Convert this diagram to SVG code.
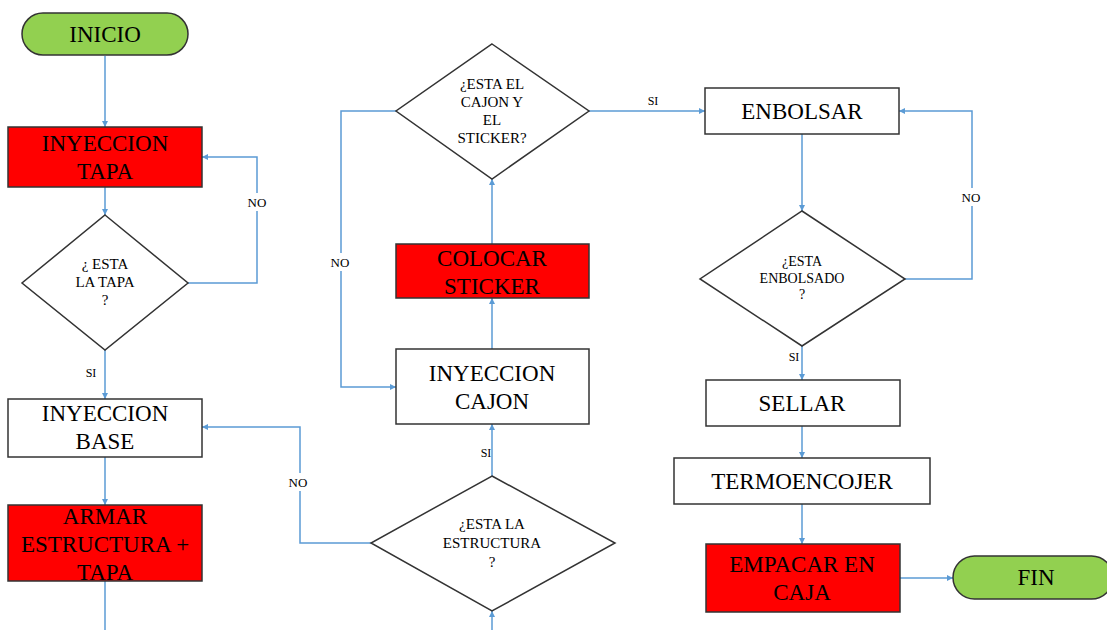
<svg xmlns="http://www.w3.org/2000/svg" width="1107" height="630" viewBox="0 0 1107 630">
<style>
.box{stroke:#333;stroke-width:1.5}
.red{fill:#FF0000}
.white{fill:#FFFFFF}
.pill{fill:#92D050;stroke:#333;stroke-width:1.5}
.dia{fill:#FFFFFF;stroke:#333;stroke-width:1.5}
.c{fill:none;stroke:#5B9BD5;stroke-width:1.5}
.ca{fill:none;stroke:#5B9BD5;stroke-width:1.5;marker-end:url(#arr)}
.bg{fill:#FFFFFF}
</style>
<defs>
<marker id="arr" viewBox="0 0 10 10" refX="10" refY="5" markerWidth="6" markerHeight="6" markerUnits="userSpaceOnUse" orient="auto">
<path d="M0,0 L10,5 L0,10 z" fill="#5B9BD5"/>
</marker>
</defs>
<rect width="1107" height="630" fill="#FFFFFF"/>
<g id="connectors">
<path class="ca" d="M105,56 V127"/>
<path class="ca" d="M105,187 V215"/>
<path class="ca" d="M188,283 H257 V157 H202"/>
<path class="ca" d="M105,350 V399"/>
<path class="ca" d="M105,457 V505"/>
<path class="c" d="M105,581 V630"/>
<path class="ca" d="M492,630 V611"/>
<path class="ca" d="M371,543 H300 V427 H202"/>
<path class="ca" d="M492,476 V424"/>
<path class="ca" d="M492,349 V298"/>
<path class="ca" d="M492,244 V179"/>
<path class="ca" d="M396,111 H341 V387 H396"/>
<path class="ca" d="M589,111 H705"/>
<path class="ca" d="M802,134 V211"/>
<path class="ca" d="M905,279 H972 V111 H899"/>
<path class="ca" d="M802,346 V380"/>
<path class="ca" d="M802,426 V458"/>
<path class="ca" d="M802,504 V544"/>
<path class="ca" d="M900,578 H953"/>
<rect class="bg" x="244" y="193" width="26" height="18"/>
<text font-family="Liberation Serif" font-size="13" text-anchor="middle" x="257" y="207">NO</text>
<text font-family="Liberation Serif" font-size="12" text-anchor="middle" x="91" y="377">SI</text>
<rect class="bg" x="285" y="473" width="26" height="18"/>
<text font-family="Liberation Serif" font-size="13" text-anchor="middle" x="298" y="487">NO</text>
<text font-family="Liberation Serif" font-size="12" text-anchor="middle" x="486" y="457">SI</text>
<rect class="bg" x="327" y="253" width="26" height="18"/>
<text font-family="Liberation Serif" font-size="13" text-anchor="middle" x="340" y="267">NO</text>
<text font-family="Liberation Serif" font-size="12" text-anchor="middle" x="653" y="105">SI</text>
<rect class="bg" x="958" y="188" width="26" height="18"/>
<text font-family="Liberation Serif" font-size="13" text-anchor="middle" x="971" y="202">NO</text>
<text font-family="Liberation Serif" font-size="12" text-anchor="middle" x="794" y="361">SI</text>
</g>
<g id="inicio">
<rect class="pill" x="22" y="13" width="166" height="42" rx="21"/>
<text font-family="Liberation Serif" font-size="23" text-anchor="middle" x="105" y="42">INICIO</text>
</g>
<g id="inyeccion-tapa">
<rect class="box red" x="8" y="127" width="194" height="60"/>
<text font-family="Liberation Serif" font-size="23" text-anchor="middle" x="105" y="151">INYECCION</text>
<text font-family="Liberation Serif" font-size="23" text-anchor="middle" x="105" y="179">TAPA</text>
</g>
<g id="dec-tapa">
<polygon class="dia" points="105,215 188,283 105,350 22,283"/>
<text font-family="Liberation Serif" font-size="15" text-anchor="middle" x="105" y="269">¿ ESTA</text>
<text font-family="Liberation Serif" font-size="15" text-anchor="middle" x="105" y="287">LA TAPA</text>
<text font-family="Liberation Serif" font-size="15" text-anchor="middle" x="105" y="305">?</text>
</g>
<g id="inyeccion-base">
<rect class="box white" x="8" y="399" width="194" height="58"/>
<text font-family="Liberation Serif" font-size="23" text-anchor="middle" x="105" y="421">INYECCION</text>
<text font-family="Liberation Serif" font-size="23" text-anchor="middle" x="105" y="449">BASE</text>
</g>
<g id="armar">
<rect class="box red" x="8" y="505" width="194" height="76"/>
<text font-family="Liberation Serif" font-size="23" text-anchor="middle" x="105" y="524">ARMAR</text>
<text font-family="Liberation Serif" font-size="23" text-anchor="middle" x="105" y="552">ESTRUCTURA +</text>
<text font-family="Liberation Serif" font-size="23" text-anchor="middle" x="105" y="580">TAPA</text>
</g>
<g id="dec-estructura">
<polygon class="dia" points="492,476 615,543 492,611 371,543"/>
<text font-family="Liberation Serif" font-size="15" text-anchor="middle" x="492" y="529">¿ESTA LA</text>
<text font-family="Liberation Serif" font-size="15" text-anchor="middle" x="492" y="548">ESTRUCTURA</text>
<text font-family="Liberation Serif" font-size="15" text-anchor="middle" x="492" y="567">?</text>
</g>
<g id="inyeccion-cajon">
<rect class="box white" x="396" y="349" width="193" height="75"/>
<text font-family="Liberation Serif" font-size="23" text-anchor="middle" x="492" y="381">INYECCION</text>
<text font-family="Liberation Serif" font-size="23" text-anchor="middle" x="492" y="409">CAJON</text>
</g>
<g id="colocar-sticker">
<rect class="box red" x="396" y="244" width="193" height="54"/>
<text font-family="Liberation Serif" font-size="23" text-anchor="middle" x="492" y="266">COLOCAR</text>
<text font-family="Liberation Serif" font-size="23" text-anchor="middle" x="492" y="294">STICKER</text>
</g>
<g id="dec-cajon">
<polygon class="dia" points="492,44 589,111 492,179 396,111"/>
<text font-family="Liberation Serif" font-size="15" text-anchor="middle" x="492" y="89">¿ESTA EL</text>
<text font-family="Liberation Serif" font-size="15" text-anchor="middle" x="492" y="107">CAJON Y</text>
<text font-family="Liberation Serif" font-size="15" text-anchor="middle" x="492" y="125">EL</text>
<text font-family="Liberation Serif" font-size="15" text-anchor="middle" x="492" y="143">STICKER?</text>
</g>
<g id="enbolsar">
<rect class="box white" x="705" y="88" width="194" height="46"/>
<text font-family="Liberation Serif" font-size="23" text-anchor="middle" x="802" y="119">ENBOLSAR</text>
</g>
<g id="dec-enbolsado">
<polygon class="dia" points="802,211 905,279 802,346 700,279"/>
<text font-family="Liberation Serif" font-size="14" text-anchor="middle" x="802" y="266">¿ESTA</text>
<text font-family="Liberation Serif" font-size="14" text-anchor="middle" x="802" y="283">ENBOLSADO</text>
<text font-family="Liberation Serif" font-size="14" text-anchor="middle" x="802" y="299">?</text>
</g>
<g id="sellar">
<rect class="box white" x="706" y="380" width="194" height="46"/>
<text font-family="Liberation Serif" font-size="23" text-anchor="middle" x="802" y="411">SELLAR</text>
</g>
<g id="termoencojer">
<rect class="box white" x="674" y="458" width="256" height="46"/>
<text font-family="Liberation Serif" font-size="23" text-anchor="middle" x="802" y="489">TERMOENCOJER</text>
</g>
<g id="empacar">
<rect class="box red" x="706" y="544" width="194" height="68"/>
<text font-family="Liberation Serif" font-size="23" text-anchor="middle" x="802" y="572">EMPACAR EN</text>
<text font-family="Liberation Serif" font-size="23" text-anchor="middle" x="802" y="600">CAJA</text>
</g>
<g id="fin">
<rect class="pill" x="953" y="556" width="160" height="43" rx="21.5"/>
<text font-family="Liberation Serif" font-size="23" text-anchor="middle" x="1036" y="585">FIN</text>
</g>
</svg>
